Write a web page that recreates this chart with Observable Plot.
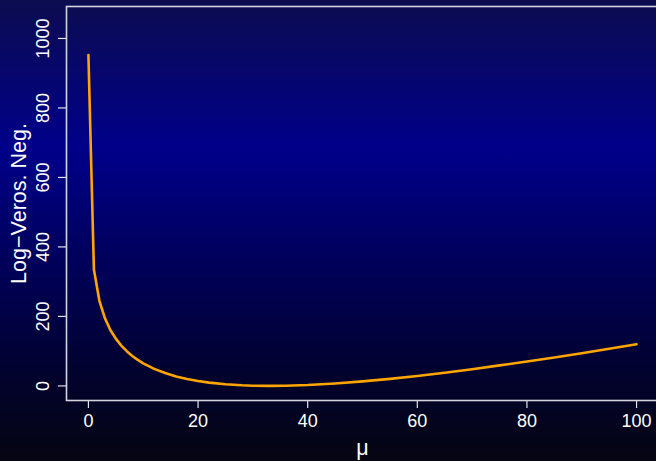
<!DOCTYPE html>
<html>
<head>
<meta charset="utf-8">
<script src="https://cdn.jsdelivr.net/npm/d3@7"></script>
<script src="https://cdn.jsdelivr.net/npm/@observablehq/plot@0.6"></script>
<style>
  html, body { margin: 0; padding: 0; overflow: hidden; }
  body {
    width: 656px; height: 461px;
    background: linear-gradient(to bottom, #0c0c50 0%, #00008a 32%, #000058 58%, #02022c 82%, #050512 100%);
    font-family: "Liberation Sans", Arial, Helvetica, sans-serif;
  }
  #chart svg { display: block; }
</style>
</head>
<body>
<div id="chart"></div>
<script>
// values
const mu = [0, 1, 2, 3, 4, 5, 6, 7, 8, 9, 10, 12, 14, 16, 18, 20, 22, 25, 28, 30, 33, 36, 40, 45, 50, 55, 60, 65, 70, 75, 80, 85, 90, 95, 100];
const negLogLik = [952, 335, 245, 195, 161, 136, 116, 100, 86, 75, 65, 49, 37, 27, 20, 14, 9.4, 4.6, 1.7, 0.6, 0, 0.5, 2.6, 7.0, 13.0, 20.3, 28.7, 38, 48, 59, 70, 82, 94, 107, 120];
const xTicks = [0, 20, 40, 60, 80, 100];
const yTicks = [0, 200, 400, 600, 800, 1000];
const xLabel = "μ";
const yLabel = "Log−Veros. Neg.";

const data = mu.map((m, i) => ({mu: m, v: negLogLik[i]}));

const chart = Plot.plot({
  width: 656,
  height: 461,
  marginLeft: 66,
  marginRight: -2,
  marginTop: 6,
  marginBottom: 61,
  style: {background: "transparent", color: "white", fontFamily: "Liberation Sans, Arial, sans-serif", overflow: "hidden"},
  x: {domain: [-4, 104]},
  y: {domain: [-42, 1092]},
  marks: [
    Plot.axisX({ticks: xTicks, tickSize: 8, tickPadding: 6, fontSize: 18, stroke: "#e4e4ec", strokeWidth: 1.2, fill: "white", label: null}),
    Plot.axisY({ticks: yTicks, tickSize: 8, tickFormat: () => "", stroke: "#e4e4ec", strokeWidth: 1.2, label: null}),
    Plot.text(yTicks, {y: d => d, text: d => String(d), frameAnchor: "left", dx: -18, rotate: -90, textAnchor: "middle", lineAnchor: "bottom", fontSize: 18, fill: "white"}),
    Plot.text([yLabel], {text: d => d, frameAnchor: "left", dx: -40.5, rotate: -90, textAnchor: "middle", lineAnchor: "bottom", fontSize: 21.5, fill: "white"}),
    Plot.text([xLabel], {text: d => d, frameAnchor: "bottom", dy: 54, textAnchor: "middle", lineAnchor: "bottom", fontSize: 21.5, fill: "white"}),
    Plot.frame({stroke: "#d4d4e0", strokeWidth: 1.6}),
    Plot.line(data, {x: "mu", y: "v", stroke: "#FFA500", strokeWidth: 2.6})
  ]
});
document.getElementById("chart").appendChild(chart);
</script>
</body>
</html>
